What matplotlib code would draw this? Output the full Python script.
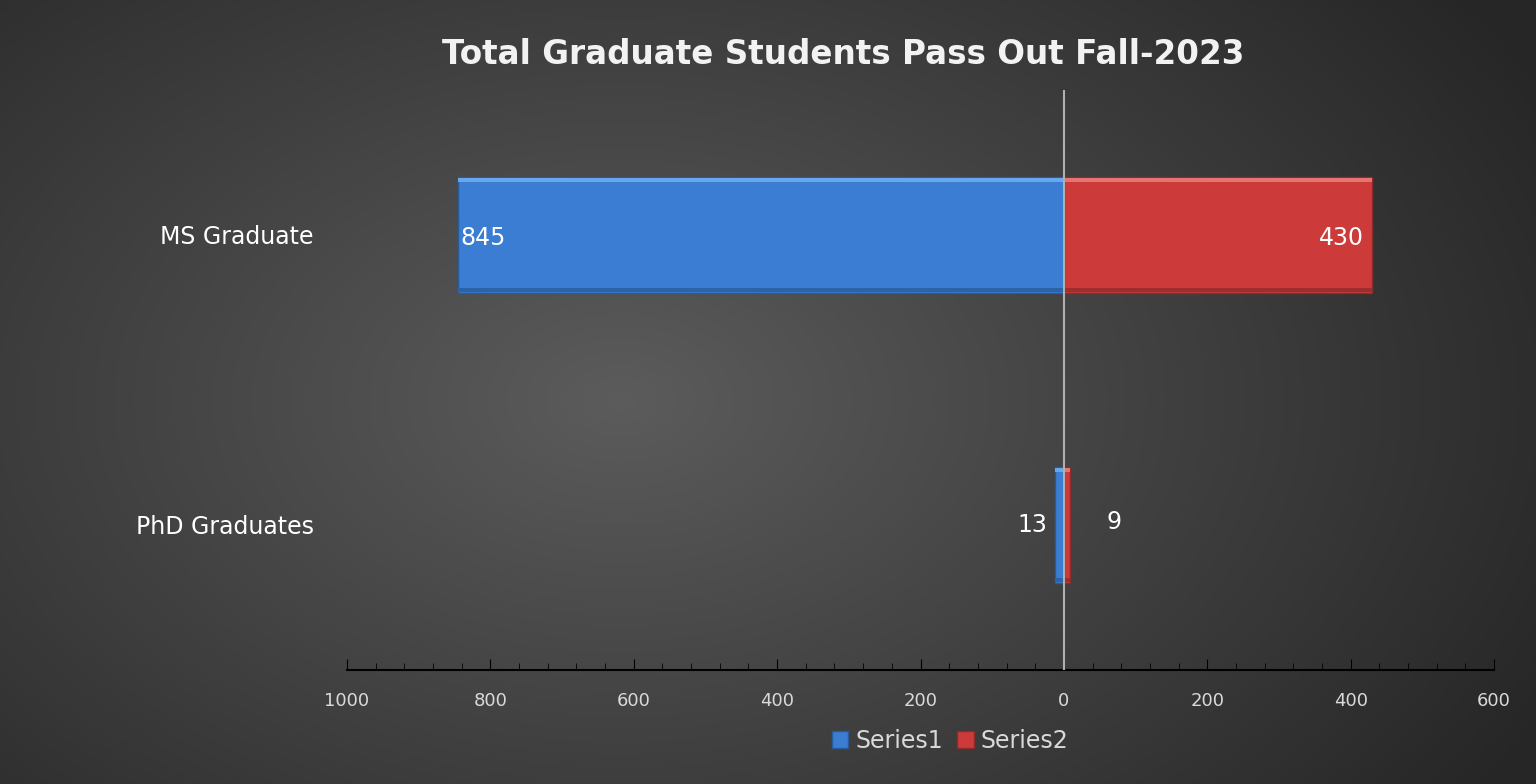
import numpy as np
import matplotlib.pyplot as plt
from matplotlib.ticker import MultipleLocator, FuncFormatter
from matplotlib.patches import Patch

categories = ['PhD Graduates', 'MS Graduate']
series1 = [13, 845]
series2 = [9, 430]

fig = plt.figure(figsize=(15.36, 7.84), dpi=100)

# radial gradient background (RGB array so it doesn't band)
bg = fig.add_axes([0, 0, 1, 1], zorder=-10)
yy, xx = np.mgrid[0:784, 0:1536]
r = np.sqrt(((xx - 620) / 1000.0) ** 2 + ((yy - 400) / 650.0) ** 2)
shade = np.clip(0.36 - 0.2 * r, 0.15, 0.36)
bg.imshow(np.dstack([shade, shade, shade]), aspect='auto', interpolation='bilinear')
bg.axis('off')

ax = fig.add_axes([347 / 1536, 1 - 670 / 784, (1494 - 347) / 1536, (670 - 90) / 784])
ax.patch.set_alpha(0)

y = np.arange(len(categories))
left = -np.array(series1)
ax.barh(y, left, height=0.4, color='#3a7dd2', edgecolor='#2a5a99', linewidth=1, zorder=2)
ax.barh(y, series2, height=0.4, color='#cc3b3a', edgecolor='#8e2a29', linewidth=1, zorder=2)

# bevel: light strip on top, darker strip at bottom
for i in range(len(y)):
    ax.barh(y[i] + 0.19, left[i], height=0.015, color='#6aa6ec', zorder=3)
    ax.barh(y[i] + 0.19, series2[i], height=0.015, color='#e77372', zorder=3)
    ax.barh(y[i] - 0.19, left[i], height=0.015, color='#2d62a6', zorder=3)
    ax.barh(y[i] - 0.19, series2[i], height=0.015, color='#9e2e2d', zorder=3)

ax.axvline(0, color='#b0b0b0', linewidth=1.5, zorder=4)

ax.set_xlim(-1000, 600)
ax.set_ylim(-0.5, 1.5)
ax.xaxis.set_major_locator(MultipleLocator(200))
ax.xaxis.set_minor_locator(MultipleLocator(40))
ax.xaxis.set_major_formatter(FuncFormatter(lambda v, p: f'{abs(int(v))}'))
ax.tick_params(axis='x', which='major', direction='in', length=8, color='black',
               labelsize=13, labelcolor='#d9d9d9', pad=16)
ax.tick_params(axis='x', which='minor', direction='in', length=5, color='black')
ax.set_yticks(y)
ax.set_yticklabels(categories, fontsize=17, color='white')
ax.tick_params(axis='y', length=0, pad=24)
for s in ['top', 'right', 'left']:
    ax.spines[s].set_visible(False)
ax.spines['bottom'].set_color('black')
ax.spines['bottom'].set_linewidth(1.5)

# data labels
ax.text(-series1[1] + 3, 1 - 0.01, str(series1[1]), color='white', fontsize=17,
        ha='left', va='center', zorder=5)
ax.text(series2[1] - 12, 1 - 0.01, str(series2[1]), color='white', fontsize=17,
        ha='right', va='center', zorder=5)
ax.text(-series1[0] - 10, 0, str(series1[0]), color='white', fontsize=17,
        ha='right', va='center', zorder=5)
ax.text(series2[0] + 50, 0.01, str(series2[0]), color='white', fontsize=17,
        ha='left', va='center', zorder=5)

fig.text(843 / 1536, 1 - 55 / 784, 'Total Graduate Students Pass Out Fall-2023',
         ha='center', va='center', fontsize=23.5, fontweight='bold', color='#f2f2f2')

handles = [Patch(facecolor='#3a7dd2', edgecolor='#2a5a99'),
           Patch(facecolor='#cc3b3a', edgecolor='#8e2a29')]
fig.legend(handles, ['Series1', 'Series2'], loc='center', bbox_to_anchor=(950 / 1536, 1 - 741 / 784),
           ncol=2, frameon=False, fontsize=17, labelcolor='#d9d9d9',
           handlelength=0.7, handleheight=0.7, handletextpad=0.3, columnspacing=0.6)

fig.savefig('out.png', dpi=100)
